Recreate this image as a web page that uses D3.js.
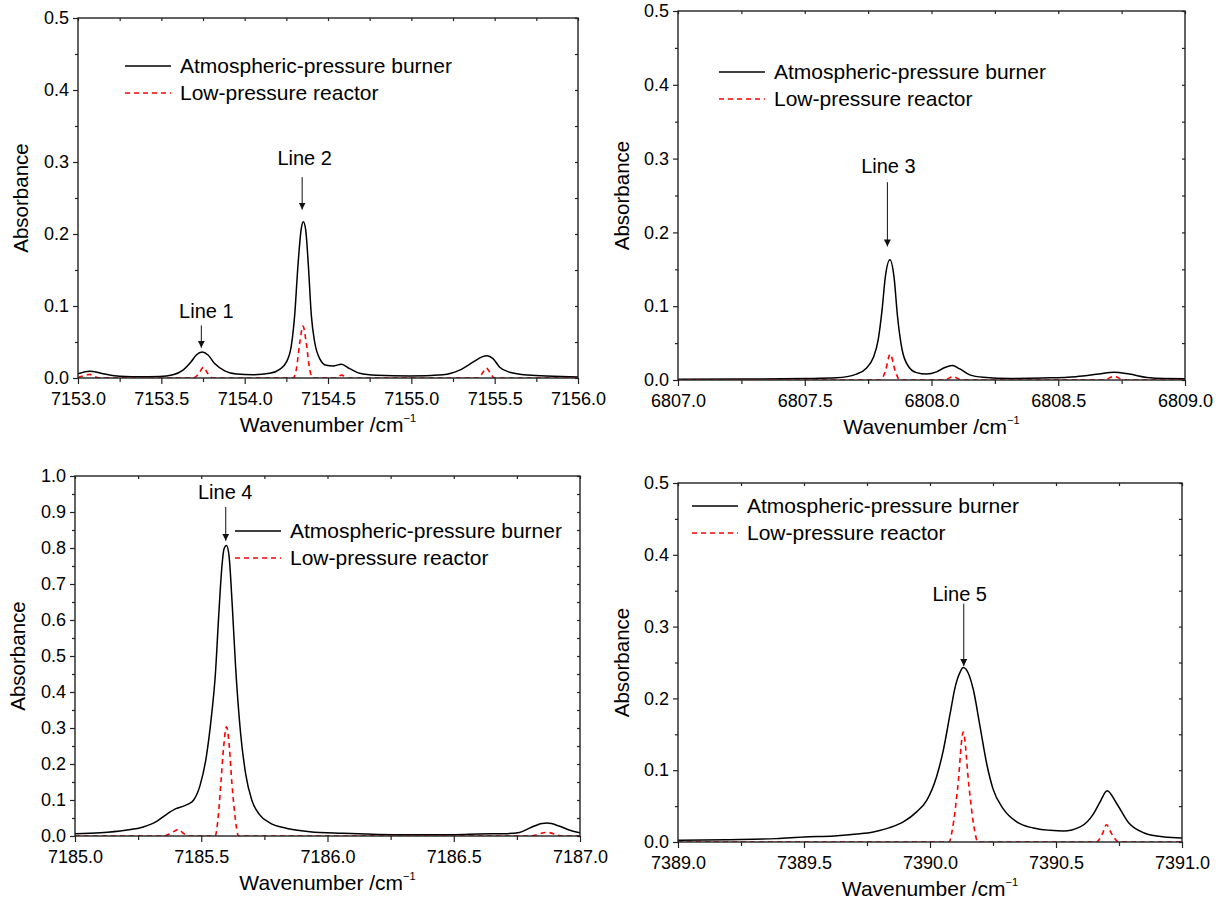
<!DOCTYPE html>
<html>
<head>
<meta charset="utf-8">
<script src="https://cdn.jsdelivr.net/npm/d3@7/dist/d3.min.js"></script>
<style>
  body { margin: 0; background: #fff; }
  text { font-family: "Liberation Sans", Arial, sans-serif; fill: #000; }
</style>
</head>
<body>
<svg id="fig" width="1222" height="904"></svg>
<script>
// spectra: [wavenumber, absorbance]
var burner1 = [[7153.00,0.006],[7153.07,0.0095],[7153.15,0.006],[7153.25,0.0025],[7153.39,0.0018],[7153.49,0.002],
  [7153.57,0.0045],[7153.63,0.011],[7153.68,0.023],[7153.71,0.032],[7153.745,0.036],[7153.78,0.032],[7153.82,0.020],
  [7153.88,0.010],[7153.95,0.0056],[7154.05,0.0046],[7154.15,0.0065],[7154.21,0.012],[7154.25,0.022],[7154.28,0.045],
  [7154.30,0.087],[7154.32,0.157],[7154.34,0.208],[7154.352,0.217],[7154.366,0.206],[7154.382,0.157],[7154.40,0.087],
  [7154.42,0.050],[7154.45,0.027],[7154.49,0.0176],[7154.53,0.0167],[7154.58,0.019],[7154.63,0.013],[7154.69,0.0065],
  [7154.79,0.0037],[7154.99,0.0028],[7155.19,0.0046],[7155.29,0.011],[7155.37,0.022],[7155.42,0.029],[7155.455,0.031],
  [7155.49,0.027],[7155.53,0.015],[7155.59,0.008],[7155.70,0.004],[7155.85,0.0025],[7156.00,0.0015]];
var reactor1 = [[7153.00,0.001],[7153.05,0.004],[7153.07,0.005],[7153.10,0.002],[7153.13,0],[7153.69,0],[7153.725,0.006],
  [7153.752,0.015],[7153.78,0.006],[7153.81,0],[7154.29,0],[7154.31,0.012],[7154.33,0.048],[7154.35,0.072],[7154.37,0.048],
  [7154.39,0.012],[7154.41,0],[7154.55,0],[7154.58,0.004],[7154.62,0],[7155.40,0],[7155.43,0.008],[7155.45,0.014],
  [7155.47,0.008],[7155.50,0],[7156.00,0]];

var burner2 = [[6807.00,0.001],[6807.25,0.0012],[6807.50,0.002],[6807.625,0.003],[6807.704,0.008],[6807.743,0.016],
  [6807.77,0.030],[6807.79,0.055],[6807.805,0.095],[6807.818,0.140],[6807.836,0.163],[6807.852,0.140],[6807.866,0.086],
  [6807.884,0.041],[6807.91,0.018],[6807.941,0.010],[6807.98,0.008],[6808.02,0.011],[6808.053,0.017],[6808.082,0.0195],
  [6808.112,0.015],[6808.151,0.007],[6808.204,0.0036],[6808.31,0.002],[6808.44,0.0027],[6808.57,0.0045],[6808.66,0.008],
  [6808.72,0.0105],[6808.78,0.008],[6808.85,0.0035],[6808.92,0.002],[6809.00,0.0018]];
var reactor2 = [[6807.00,0],[6807.80,0],[6807.818,0.012],[6807.837,0.035],[6807.857,0.012],[6807.875,0],[6808.05,0],
  [6808.085,0.0045],[6808.12,0],[6808.68,0],[6808.72,0.005],[6808.76,0],[6809.00,0]];

var burner3 = [[7185.00,0.0065],[7185.10,0.009],[7185.20,0.016],[7185.27,0.025],[7185.32,0.039],[7185.36,0.059],
  [7185.40,0.076],[7185.43,0.083],[7185.45,0.089],[7185.47,0.100],[7185.495,0.14],[7185.52,0.22],[7185.54,0.33],
  [7185.556,0.45],[7185.569,0.61],[7185.582,0.75],[7185.59,0.797],[7185.6,0.807],[7185.61,0.778],[7185.623,0.638],
  [7185.636,0.47],[7185.656,0.284],[7185.676,0.172],[7185.70,0.100],[7185.73,0.060],[7185.77,0.037],[7185.84,0.021],
  [7185.93,0.012],[7186.06,0.0075],[7186.26,0.0037],[7186.50,0.0037],[7186.60,0.0056],[7186.70,0.0065],[7186.76,0.010],
  [7186.80,0.022],[7186.85,0.035],[7186.87,0.036],[7186.92,0.027],[7186.96,0.016],[7187.00,0.009]];
var reactor3 = [[7185.00,0],[7185.35,0],[7185.38,0.008],[7185.41,0.018],[7185.43,0.007],[7185.45,0],[7185.555,0],
  [7185.568,0.06],[7185.578,0.15],[7185.589,0.25],[7185.6,0.303],[7185.611,0.25],[7185.621,0.15],[7185.633,0.06],
  [7185.648,0],[7186.80,0],[7186.87,0.01],[7186.93,0],[7187.00,0]];

var burner4 = [[7389.00,0.0023],[7389.19,0.0033],[7389.39,0.0047],[7389.50,0.007],[7389.62,0.0084],[7389.71,0.011],
  [7389.775,0.014],[7389.84,0.020],[7389.894,0.028],[7389.947,0.042],[7389.987,0.058],[7390.026,0.091],[7390.053,0.128],
  [7390.08,0.179],[7390.10,0.216],[7390.12,0.237],[7390.132,0.243],[7390.152,0.235],[7390.172,0.212],[7390.199,0.160],
  [7390.225,0.109],[7390.25,0.074],[7390.29,0.0465],[7390.344,0.028],[7390.41,0.0195],[7390.477,0.0163],[7390.53,0.0153],
  [7390.596,0.021],[7390.65,0.040],[7390.675,0.056],[7390.703,0.0715],[7390.74,0.054],[7390.79,0.026],[7390.85,0.0126],
  [7390.93,0.007],[7391.00,0.0056]];
var reactor4 = [[7389.00,0],[7390.075,0],[7390.09,0.02],[7390.11,0.076],[7390.132,0.153],[7390.155,0.076],[7390.175,0.02],
  [7390.19,0],[7390.66,0],[7390.685,0.012],[7390.70,0.024],[7390.72,0.012],[7390.75,0],[7391.00,0]];

var seriesNames = ["Atmospheric-pressure burner", "Low-pressure reactor"];
var xDomains = [[7153, 7156], [6807, 6809], [7185, 7187], [7389, 7391]];
var yMaxes = [0.5, 0.5, 1.0, 0.5];
// line labels: name, text x, text baseline y, arrow x, arrow top, arrow tip
var lineNames = [["Line 1", "Line 2"], ["Line 3"], ["Line 4"], ["Line 5"]];
var labelX = [[7153.77, 7154.36], [6807.83], [7185.595], [7390.118]];
var labelY = [[0.083, 0.296], [0.281], [0.937], [0.336]];
var arrowX = [[7153.74, 7154.345], [6807.826], [7185.597], [7390.134]];
var arrowTop = [[0.073, 0.279], [0.268], [0.914], [0.332]];
var arrowTip = [[0.042, 0.234], [0.181], [0.82], [0.245]];

window.onload = function() {
    var svg = d3.select("#fig");
    var burners = [burner1, burner2, burner3, burner4];
    var reactors = [reactor1, reactor2, reactor3, reactor4];

    // plot boxes [left, top, right, bottom] and legend spots
    var boxes = [[78, 18, 578, 378], [678, 11, 1185, 380], [75, 476, 580, 836], [678, 483, 1182, 842]];
    var legendAt = [[125, 66], [719, 72], [235, 531], [692, 506]];
    var ylabX = [21, 622, 18, 622];

    svg.append("defs").append("marker")
        .attr("id", "arrow")
        .attr("viewBox", "0 0 10 10")
        .attr("refX", 10).attr("refY", 5)
        .attr("markerUnits", "userSpaceOnUse")
        .attr("markerWidth", 7).attr("markerHeight", 10)
        .attr("orient", "auto")
        .append("path").attr("d", "M0,0 L10,5 L0,10 Z").attr("fill", "#111");

    for (var p = 0; p < 4; p++) {
        var b = boxes[p];
        var x = d3.scaleLinear().domain(xDomains[p]).range([b[0], b[2]]);
        var y = d3.scaleLinear().domain([0, yMaxes[p]]).range([b[3], b[1]]);
        var g = svg.append("g");

        var xMajor = d3.range(xDomains[p][0], xDomains[p][1] + 0.001, 0.5);
        var xMinor = d3.range(xDomains[p][0] + 0.25, xDomains[p][1], 0.5);
        var yMajor = d3.range(0, yMaxes[p] + 0.001, 0.1);
        var yMinor = d3.range(0.05, yMaxes[p], 0.1);

        // clip
        g.append("clipPath").attr("id", "clip" + p)
            .append("rect").attr("x", b[0]).attr("y", b[1] - 2)
            .attr("width", b[2] - b[0]).attr("height", b[3] - b[1] + 2);

        var line = d3.line()
            .x(function(d) { return x(d[0]); })
            .y(function(d) { return y(d[1]); })
            .curve(d3.curveMonotoneX);

        g.append("path").datum(burners[p])
            .attr("clip-path", "url(#clip" + p + ")")
            .attr("d", line).attr("fill", "none")
            .attr("stroke", "#000").attr("stroke-width", 1.5);
        g.append("path").datum(reactors[p])
            .attr("clip-path", "url(#clip" + p + ")")
            .attr("d", line).attr("fill", "none")
            .attr("stroke", "#ff0000").attr("stroke-width", 1.6)
            .attr("stroke-dasharray", "5,4");

        // axes
        var fmt = d3.format(".1f");
        g.append("g").attr("class", "axis").attr("transform", "translate(0," + b[3] + ")")
            .call(d3.axisBottom(x).tickValues(xMajor).tickFormat(fmt).tickSizeInner(6).tickSizeOuter(0).tickPadding(8));
        g.append("g").attr("class", "axis").attr("transform", "translate(0," + b[3] + ")")
            .call(d3.axisBottom(x).tickValues(xMinor).tickFormat("").tickSizeInner(4).tickSizeOuter(0));
        g.append("g").attr("class", "axis").attr("transform", "translate(" + b[0] + ",0)")
            .call(d3.axisLeft(y).tickValues(yMajor).tickFormat(fmt).tickSizeInner(5).tickSizeOuter(0).tickPadding(4));
        g.append("g").attr("class", "axis").attr("transform", "translate(" + b[0] + ",0)")
            .call(d3.axisLeft(y).tickValues(yMinor).tickFormat("").tickSizeInner(3).tickSizeOuter(0));
        g.append("g").attr("class", "axis").attr("transform", "translate(0," + b[1] + ")")
            .call(d3.axisTop(x).tickValues(xMajor.concat(xMinor)).tickFormat("").tickSizeInner(-3).tickSizeOuter(0));
        g.append("g").attr("class", "axis").attr("transform", "translate(" + b[2] + ",0)")
            .call(d3.axisRight(y).tickValues(yMajor.concat(yMinor)).tickFormat("").tickSizeInner(-3).tickSizeOuter(0));

        g.selectAll(".axis path").attr("stroke", "none");
        g.selectAll(".axis line").attr("stroke", "#222").attr("stroke-width", 1.2);
        g.selectAll(".axis text").attr("font-size", 18).attr("fill", "#000")
            .style("font-family", "'Liberation Sans', Arial, sans-serif");

        g.append("rect").attr("x", b[0]).attr("y", b[1])
            .attr("width", b[2] - b[0]).attr("height", b[3] - b[1])
            .attr("fill", "none").attr("stroke", "#222").attr("stroke-width", 1.4);

        // axis titles
        g.append("text")
            .attr("transform", "translate(" + ylabX[p] + "," + ((b[1] + b[3]) / 2) + ") rotate(-90)")
            .attr("text-anchor", "middle").attr("dy", "0.35em")
            .attr("font-size", 20.5).text("Absorbance");
        var xt = g.append("text")
            .attr("x", (b[0] + b[2]) / 2).attr("y", b[3] + 54)
            .attr("text-anchor", "middle").attr("font-size", 21);
        xt.append("tspan").text("Wavenumber /cm");
        xt.append("tspan").attr("dy", -10).attr("font-size", 11).text("\u22121");

        // legend
        var lg = legendAt[p];
        g.append("line").attr("x1", lg[0]).attr("x2", lg[0] + 46).attr("y1", lg[1]).attr("y2", lg[1])
            .attr("stroke", "#000").attr("stroke-width", 1.5);
        g.append("line").attr("x1", lg[0]).attr("x2", lg[0] + 46).attr("y1", lg[1] + 27).attr("y2", lg[1] + 27)
            .attr("stroke", "#ff0000").attr("stroke-width", 1.6).attr("stroke-dasharray", "5,4");
        g.selectAll(".leg").data(seriesNames).enter().append("text")
            .attr("x", lg[0] + 55)
            .attr("y", function(d, i) { return lg[1] + i * 27; })
            .attr("dy", "0.35em").attr("font-size", 21)
            .text(function(d) { return d; });

        // line annotations
        for (var k = 0; k < lineNames[p].length; k++) {
            g.append("text").attr("x", x(labelX[p][k])).attr("y", y(labelY[p][k]))
                .attr("text-anchor", "middle").attr("font-size", 20).text(lineNames[p][k]);
            g.append("line")
                .attr("x1", x(arrowX[p][k])).attr("x2", x(arrowX[p][k]))
                .attr("y1", y(arrowTop[p][k])).attr("y2", y(arrowTip[p][k]))
                .attr("stroke", "#111").attr("stroke-width", 1)
                .attr("marker-end", "url(#arrow)");
        }
    }
};
</script>
</body>
</html>
